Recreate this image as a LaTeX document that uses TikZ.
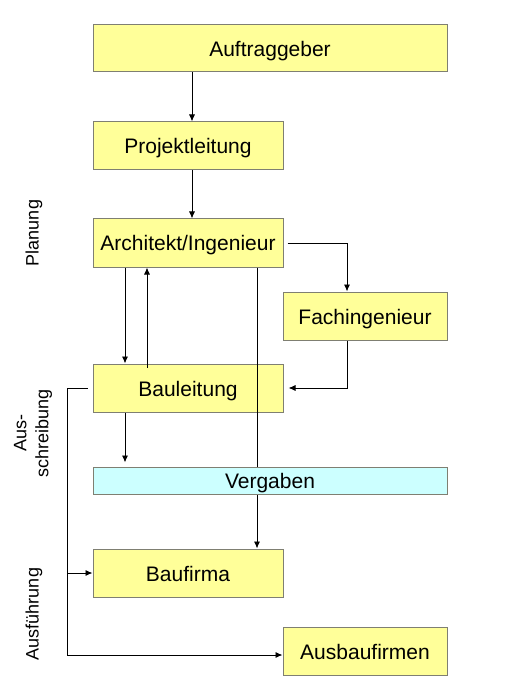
\documentclass[tikz,border=0pt]{standalone}
\usepackage{fontspec}
\setmainfont{Liberation Sans}
\usetikzlibrary{arrows.meta}
\definecolor{boxyellow}{HTML}{FFFF99}
\definecolor{boxcyan}{HTML}{CCFFFF}
\definecolor{boxborder}{HTML}{7F7F72}
\begin{document}
\begin{tikzpicture}[x=1pt,y=-1pt,
  box/.style={draw=boxborder,line width=1pt,fill=boxyellow,rectangle,inner sep=0pt,
    minimum height=48pt,text height=20pt,text depth=4pt,font=\fontsize{21}{25}\selectfont},
  wide/.style={minimum width=354pt},
  narrow/.style={minimum width=190pt},
  mid/.style={minimum width=164pt},
  phase/.style={rotate=90,font=\fontsize{18}{22}\selectfont,align=center,inner sep=0pt},
  arr/.style={line width=0.9pt,-{Latex[length=7pt,width=6pt]}},
  ln/.style={line width=0.9pt}]
\useasboundingbox (0,0) rectangle (512,700);
\fill[white] (0,0) rectangle (512,700);
% nodes
\node[box,wide,minimum height=47pt] (auf) at (270,48.5) {Auftraggeber};
\node[box,narrow] (proj) at (188,146) {Projektleitung};
\node[box,narrow] (arch) at (188,243) {Architekt/Ingenieur};
\node[box,mid] (fach) at (365,316) {Fachingenieur};
\node[box,narrow] (baul) at (188,388) {Bauleitung};
\node[box,narrow] (bauf) at (188,573) {Baufirma};
\node[box,mid] (ausb) at (365,651) {Ausbaufirmen};
% x positions
\coordinate (xa) at (192,0);
\coordinate (xb) at (125,0);
\coordinate (xc) at (147,0);
\coordinate (xd) at (257,0);
\coordinate (xe) at (347,0);
\coordinate (xf) at (67,0);
% long line behind Vergaben
\draw[arr] (arch.south -| xd) -- (bauf.north -| xd);
\node[box,wide,fill=boxcyan,minimum height=27pt] (verg) at (270,480.5) {Vergaben};
% phase labels
\node[phase] (plan) at (34,233) {Planung};
\node[phase] (auss) at (33,433) {Aus-\\schreibung};
\node[phase] (ausf) at (34,614) {Ausführung};
% connectors
\draw[arr] (auf.south -| xa) -- (proj.north -| xa);
\draw[arr] (proj.south -| xa) -- (arch.north -| xa);
\draw[arr] (arch.south -| xb) -- (baul.north -| xb);
\draw[arr] ([yshift=-4pt]baul.north -| xc) -- (arch.south -| xc);
\draw[arr] ([xshift=4pt]arch.east) -| (fach.north -| xe);
\draw[arr] (fach.south -| xe) |- ([xshift=5pt]baul.east);
\draw[arr] (baul.south -| xb) -- ([yshift=4pt]verg.north -| xb);
\coordinate (lt) at ([xshift=-5pt]baul.west);
\coordinate (lb) at ([yshift=-4pt]ausb.west);
\draw[ln] (lt) -| (xf |- lb);
\draw[arr] (xf |- lb) -- (lb);
\draw[arr] (xf |- bauf.west) -- (bauf.west);
\end{tikzpicture}
\end{document}
